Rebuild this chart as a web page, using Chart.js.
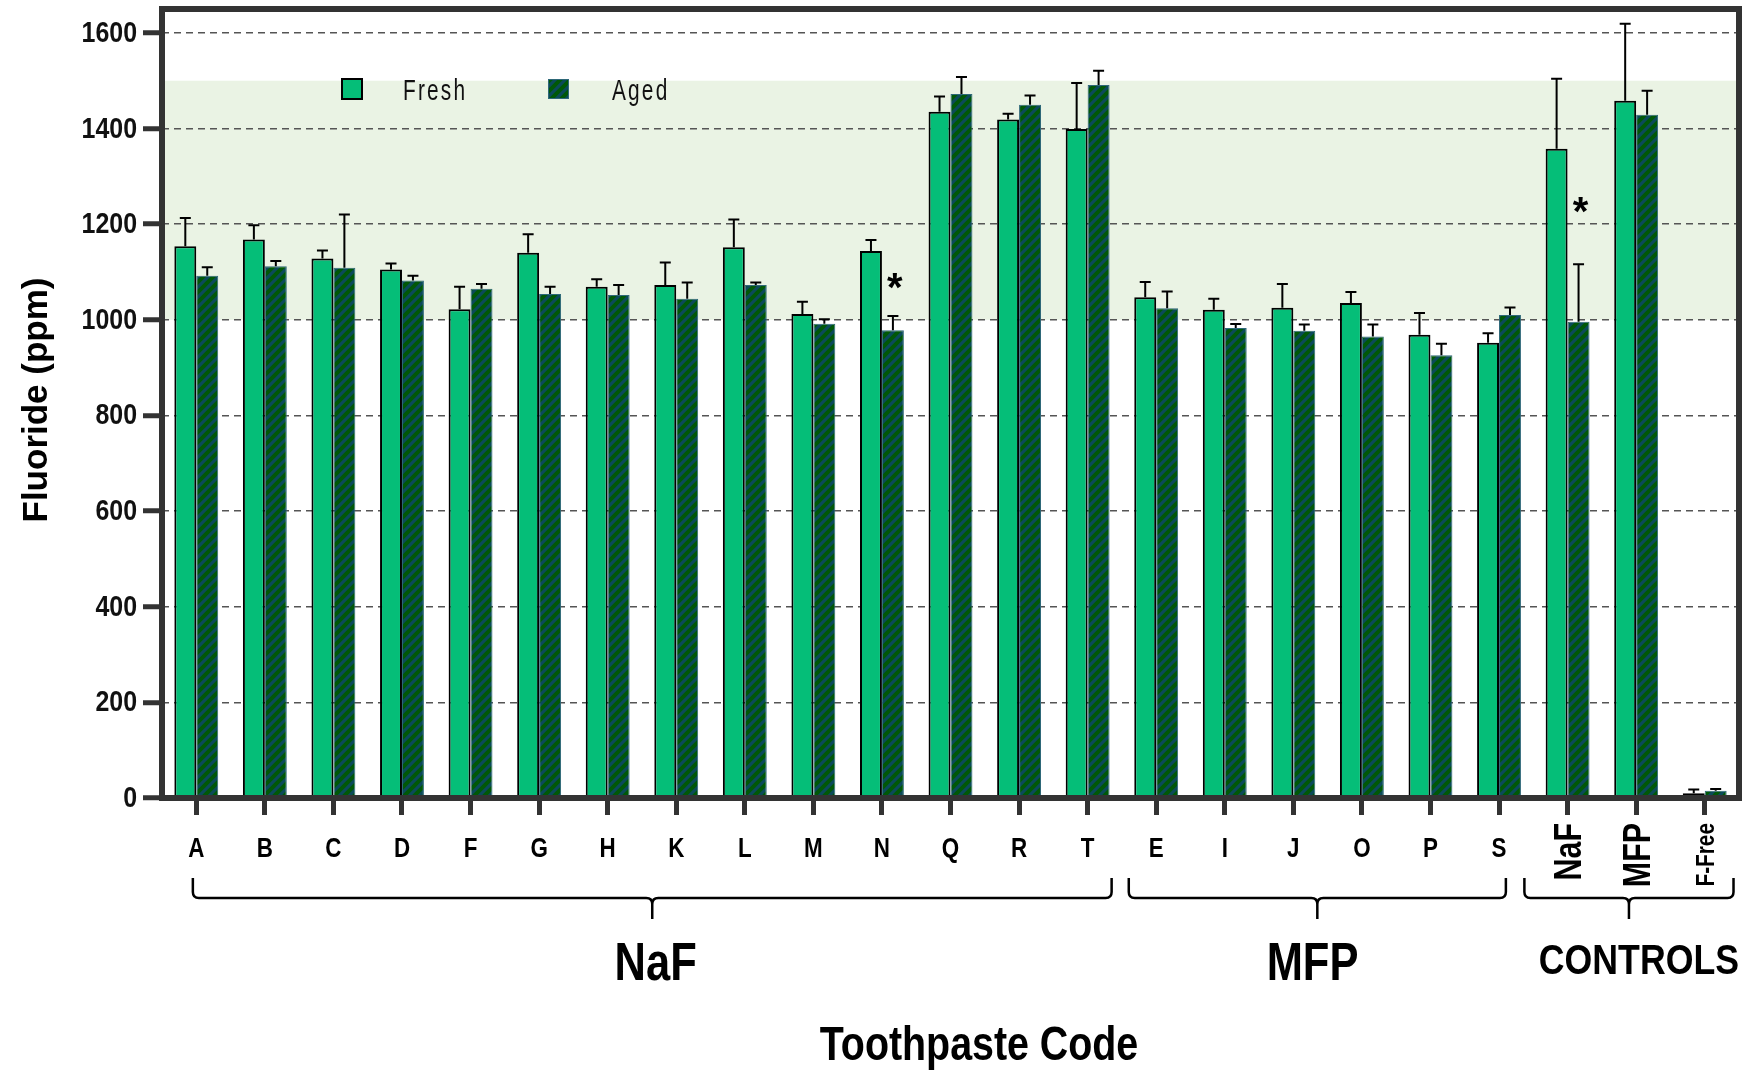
<!DOCTYPE html>
<html>
<head>
<meta charset="utf-8">
<title>Fluoride in toothpaste</title>
<script src="https://cdn.jsdelivr.net/npm/chart.js@4.4.1/dist/chart.umd.min.js"></script>
<style>
  html, body { margin: 0; padding: 0; background: #fff; }
  #wrap { width: 1747px; height: 1071px; position: relative; }
</style>
</head>
<body>
<div id="wrap"><canvas id="myChart"></canvas></div>
<script>
'use strict';

// data
let categories = ['A', 'B', 'C', 'D', 'F', 'G', 'H', 'K', 'L', 'M', 'N', 'Q', 'R', 'T', 'E', 'I', 'J', 'O', 'P', 'S', 'NaF', 'MFP', 'F-Free'];
let freshValues = [1154, 1168, 1128, 1105, 1022, 1140, 1069, 1073, 1152, 1012, 1144, 1435, 1419, 1399, 1047, 1021, 1025, 1035, 969, 952, 1358, 1458, 10];
let freshErrors = [59, 30, 17, 13, 47, 39, 16, 47, 58, 26, 23, 32, 12, 96, 32, 23, 50, 23, 45, 20, 146, 161, 8];
let agedValues = [1092, 1112, 1109, 1082, 1065, 1054, 1052, 1044, 1073, 992, 978, 1472, 1450, 1491, 1024, 983, 977, 965, 926, 1010, 996, 1429, 15];
let agedErrors = [18, 11, 111, 10, 10, 15, 21, 34, 5, 9, 30, 36, 19, 30, 35, 8, 13, 25, 24, 16, 120, 50, 4];
let yTickValues = [0, 200, 400, 600, 800, 1000, 1200, 1400, 1600];
let rotatedLabels = ['NaF', 'MFP', 'F-Free'];

// groups under the x axis (in category index units)
let groupNames = ['NaF', 'MFP', 'CONTROLS'];
let groupFrom = [-0.05, 13.6, 19.37];
let groupTo = [13.35, 19.1, 22.42];
let groupLabelAt = [6.7, 16.28, 21.04];

// shaded target range and significance marks
let bandLow = 1000;
let bandHigh = 1500;
let starIndex = [10, 20];
let starValue = [1085, 1244];

const SANS = "'Liberation Sans', Arial, sans-serif";
const FRESH = 'rgb(5,190,120)';
const TEAL = 'rgb(11,74,91)';

function makeHatch() {
  let c = document.createElement('canvas');
  c.width = 10;
  c.height = 10;
  let g = c.getContext('2d');
  g.fillStyle = TEAL;
  g.fillRect(0, 0, 10, 10);
  g.strokeStyle = 'rgb(0,88,8)';
  g.lineWidth = 4;
  g.beginPath();
  g.moveTo(-5, 5); g.lineTo(5, -5);
  g.moveTo(0, 10); g.lineTo(10, 0);
  g.moveTo(5, 15); g.lineTo(15, 5);
  g.stroke();
  return g.createPattern(c, 'repeat');
}
let hatch = makeHatch();

// narrow text: Liberation Sans squeezed sideways, like Arial Narrow
function narrowText(ctx, text, x, y, size, weight, align, baseline, angle, squeeze) {
  ctx.save();
  ctx.translate(x, y);
  if (angle) ctx.rotate(angle);
  ctx.scale(squeeze || 0.8, 1);
  ctx.font = weight + ' ' + size + 'px ' + SANS;
  ctx.textAlign = align;
  ctx.textBaseline = baseline;
  ctx.fillText(text, 0, 0);
  ctx.restore();
}

let decor = {
  id: 'decor',
  beforeDraw(chart) {
    let ctx = chart.ctx;
    let a = chart.chartArea;
    let y = chart.scales.y;
    ctx.save();
    ctx.fillStyle = '#eaf3e4';
    let top = y.getPixelForValue(bandHigh);
    let bot = y.getPixelForValue(bandLow);
    ctx.fillRect(a.left, top, a.right - a.left, bot - top);
    ctx.restore();
  },
  afterDatasetsDraw(chart) {
    let ctx = chart.ctx;
    let y = chart.scales.y;
    let errs = [freshErrors, agedErrors];
    let vals = [freshValues, agedValues];
    ctx.save();
    ctx.strokeStyle = '#000';
    ctx.lineWidth = 2;
    for (let d = 0; d < 2; d++) {
      let meta = chart.getDatasetMeta(d);
      meta.data.forEach(function (bar, i) {
        let yTop = y.getPixelForValue(vals[d][i] + errs[d][i]);
        ctx.beginPath();
        ctx.moveTo(bar.x, bar.y);
        ctx.lineTo(bar.x, yTop);
        ctx.moveTo(bar.x - 5.5, yTop);
        ctx.lineTo(bar.x + 5.5, yTop);
        ctx.stroke();
      });
    }
    ctx.restore();
  },
  afterDraw(chart) {
    let ctx = chart.ctx;
    let a = chart.chartArea;
    let x = chart.scales.x;
    let y = chart.scales.y;
    ctx.save();

    // frame
    ctx.strokeStyle = '#333';
    ctx.lineWidth = 6;
    ctx.strokeRect(a.left, a.top, a.right - a.left, a.bottom - a.top);

    // y tick labels
    ctx.fillStyle = '#111';
    yTickValues.forEach(function (v) {
      narrowText(ctx, String(v), a.left - 25, y.getPixelForValue(v) + 1, 29, 'bold', 'right', 'middle', 0, 0.86);
    });

    // asterisks
    ctx.fillStyle = '#000';
    ctx.font = 'bold 40px ' + SANS;
    ctx.textAlign = 'center';
    ctx.textBaseline = 'alphabetic';
    let aged = chart.getDatasetMeta(1);
    for (let i = 0; i < starIndex.length; i++) {
      let bar = aged.data[starIndex[i]];
      ctx.fillText('*', bar.x + 2, y.getPixelForValue(starValue[i]) + 22);
    }

    // legend
    ctx.lineWidth = 2;
    ctx.fillStyle = FRESH;
    ctx.fillRect(342, 79, 20, 20);
    ctx.strokeStyle = '#000';
    ctx.strokeRect(342, 79, 20, 20);
    ctx.fillStyle = hatch;
    ctx.fillRect(548, 79, 21, 20);
    ctx.strokeStyle = '#2e6878';
    ctx.lineWidth = 1;
    ctx.strokeRect(548.5, 79.5, 20, 19);
    ctx.fillStyle = '#111';
    if ('letterSpacing' in ctx) ctx.letterSpacing = '3px';
    narrowText(ctx, 'Fresh', 403, 100, 29, 'normal', 'left', 'alphabetic', 0, 0.72);
    narrowText(ctx, 'Aged', 612, 100, 29, 'normal', 'left', 'alphabetic', 0, 0.72);
    if ('letterSpacing' in ctx) ctx.letterSpacing = '0px';

    // category labels
    ctx.fillStyle = '#000';
    categories.forEach(function (c, i) {
      let px = x.getPixelForValue(i);
      if (rotatedLabels.includes(c)) {
        let size = c === 'F-Free' ? 26 : 38;
        narrowText(ctx, c, px + size * 0.36, 823, size, 'bold', 'right', 'alphabetic', -Math.PI / 2, 0.8);
      } else {
        narrowText(ctx, c, px, 857, 28, 'bold', 'center', 'alphabetic', 0, 0.8);
      }
    });

    // braces and group names
    let x0 = x.getPixelForValue(0);
    let step = x.getPixelForValue(1) - x0;
    ctx.strokeStyle = '#000';
    ctx.lineWidth = 2.5;
    for (let g = 0; g < groupNames.length; g++) {
      let x1 = x0 + groupFrom[g] * step;
      let x2 = x0 + groupTo[g] * step;
      let mid = (x1 + x2) / 2;
      let t = 878, h = 898, tip = 919, r = 6;
      ctx.beginPath();
      ctx.moveTo(x1, t);
      ctx.lineTo(x1, h - r);
      ctx.quadraticCurveTo(x1, h, x1 + r, h);
      ctx.lineTo(mid - r, h);
      ctx.quadraticCurveTo(mid, h, mid, h + r);
      ctx.lineTo(mid, tip);
      ctx.moveTo(mid, h + r);
      ctx.quadraticCurveTo(mid, h, mid + r, h);
      ctx.lineTo(x2 - r, h);
      ctx.quadraticCurveTo(x2, h, x2, h - r);
      ctx.lineTo(x2, t);
      ctx.stroke();

      let size = g === 2 ? 42 : 53;
      narrowText(ctx, groupNames[g], x0 + groupLabelAt[g] * step, g === 2 ? 974 : 980, size, 'bold', 'center', 'alphabetic', 0, g === 2 ? 0.85 : 0.82);
    }

    // axis titles
    narrowText(ctx, 'Toothpaste Code', 979, 1060, 48, 'bold', 'center', 'alphabetic', 0, 0.82);
    ctx.save();
    ctx.translate(47, 400);
    ctx.rotate(-Math.PI / 2);
    ctx.font = 'bold 35px ' + SANS;
    ctx.textAlign = 'center';
    ctx.textBaseline = 'alphabetic';
    ctx.fillText('Fluoride (ppm)', 0, 0);
    ctx.restore();

    ctx.restore();
  }
};

const data = {
  labels: categories,
  datasets: [
    {
      label: 'Fresh',
      data: freshValues,
      backgroundColor: FRESH,
      borderColor: '#000',
      borderWidth: 2
    },
    {
      label: 'Aged',
      data: agedValues,
      backgroundColor: hatch,
      borderColor: '#2e6878',
      borderWidth: 1
    }
  ]
};

const config = {
  type: 'bar',
  data: data,
  options: {
    responsive: true,
    maintainAspectRatio: false,
    animation: false,
    events: [],
    layout: { padding: { top: 9, right: 8, left: 0, bottom: 0 } },
    datasets: {
      bar: { categoryPercentage: 0.64, barPercentage: 1 }
    },
    plugins: {
      legend: { display: false },
      tooltip: { enabled: false }
    },
    scales: {
      x: {
        grid: {
          display: true,
          offset: false,
          drawOnChartArea: false,
          drawTicks: true,
          tickLength: 17,
          tickWidth: 5,
          tickColor: '#333'
        },
        border: { display: false },
        ticks: { display: false },
        afterFit(scale) { scale.height = 273; }
      },
      y: {
        min: 0,
        max: 1650,
        afterBuildTicks(scale) {
          scale.ticks = yTickValues.map(v => ({ value: v }));
        },
        grid: {
          color: '#555',
          lineWidth: 1.5,
          tickLength: 19,
          tickWidth: 5,
          tickColor: '#333',
          tickBorderDash: []
        },
        border: { display: false, dash: [7, 5] },
        ticks: { display: false },
        afterFit(scale) { scale.width = 162; }
      }
    }
  },
  plugins: [decor]
};

const myChart = new Chart(document.getElementById('myChart'), config);
</script>
</body>
</html>
